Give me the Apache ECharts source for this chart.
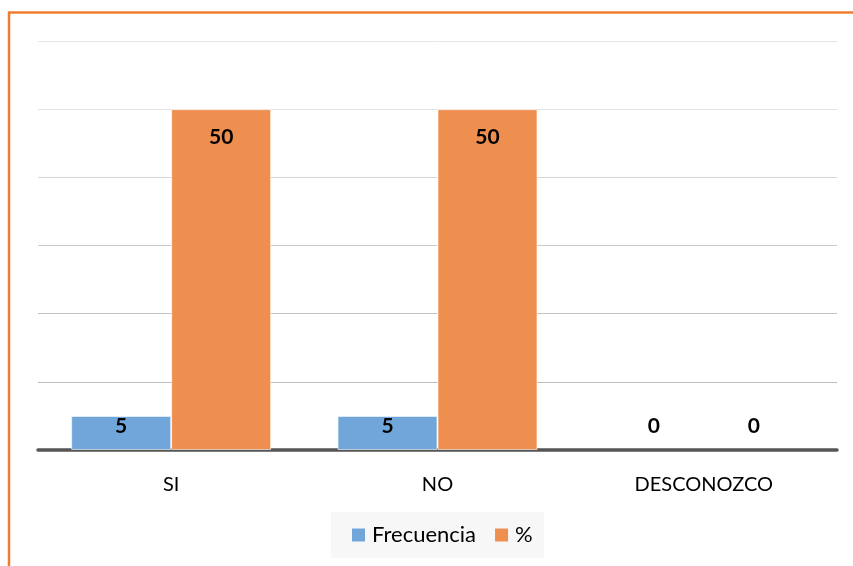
<!DOCTYPE html>
<html>
<head>
<meta charset="utf-8">
<script src="https://cdn.jsdelivr.net/npm/echarts@6/dist/echarts.min.js"></script>
<style>
  html, body { margin: 0; padding: 0; background: #ffffff; }
  #chart { width: 853px; height: 566px; }
</style>
</head>
<body>
<div id="chart"></div>
<script>
// Respuestas por categoría
const categories = ['SI', 'NO', 'DESCONOZCO'];
const frecuencia = [5, 5, 0];
const porcentaje = [50, 50, 0];
const seriesNames = ['Frecuencia', '%'];

const FONT = 'Lato, "Noto Sans", sans-serif';
const BLUE = '#70a6da';
const ORANGE = '#ef8f4f';

// Value labels: inside the top of tall bars, just above the axis for empty ones
function labelFor(v) {
  if (v >= 20) return { position: 'insideTop', distance: 18 };
  if (v > 0) return { position: 'insideTop', distance: 0 };
  return { position: 'top', distance: 13 };
}
function withLabels(values) {
  return values.map(v => ({
    value: v,
    label: labelFor(v),
    itemStyle: { borderWidth: v > 0 ? 1 : 0 }
  }));
}

const chart = echarts.init(document.getElementById('chart'));
chart.setOption({
  backgroundColor: '#ffffff',
  animation: false,
  textStyle: { fontFamily: FONT },
  graphic: [{
    type: 'rect',
    silent: true,
    shape: { x: 9, y: 12.5, width: 1000, height: 1000 },
    style: { fill: 'none', stroke: '#ed7d31', lineWidth: 2.5 }
  }],
  grid: { left: 38, right: 16, top: 41, bottom: 116 },
  legend: {
    data: seriesNames,
    left: 331,
    top: 512,
    backgroundColor: '#f7f7f7',
    padding: [12, 11, 12, 21],
    itemWidth: 13,
    itemHeight: 13,
    itemGap: 19,
    icon: 'rect',
    textStyle: { fontFamily: FONT, fontSize: 22, color: '#000000', lineHeight: 21, padding: [0, 0, 0, 2] }
  },
  xAxis: {
    type: 'category',
    data: categories,
    axisLine: { lineStyle: { color: '#555555', width: 3.5 } },
    axisTick: { show: false },
    axisLabel: { fontFamily: FONT, fontSize: 20, color: '#000000', margin: 25 }
  },
  yAxis: {
    type: 'value',
    min: 0,
    max: 60,
    interval: 10,
    axisLabel: { show: false },
    axisLine: { show: false },
    axisTick: { show: false },
    splitLine: {
      lineStyle: {
        color: ['#555555', '#bdbdbd', '#c2c2c2', '#cbcbcb', '#d6d6d6', '#e2e2e2', '#e6e6e6'],
        width: 1
      }
    }
  },
  series: [
    {
      name: seriesNames[0],
      type: 'bar',
      data: withLabels(frecuencia),
      barWidth: 100,
      barGap: '0%',
      itemStyle: { color: BLUE, borderColor: 'rgba(255,255,255,0.6)' },
      label: { show: true, fontFamily: FONT, fontSize: 21, fontWeight: 'bold', color: '#000000' }
    },
    {
      name: seriesNames[1],
      type: 'bar',
      data: withLabels(porcentaje),
      barWidth: 100,
      barGap: '0%',
      itemStyle: { color: ORANGE, borderColor: 'rgba(255,255,255,0.6)' },
      label: { show: true, fontFamily: FONT, fontSize: 21, fontWeight: 'bold', color: '#000000' }
    }
  ]
});
</script>
</body>
</html>
